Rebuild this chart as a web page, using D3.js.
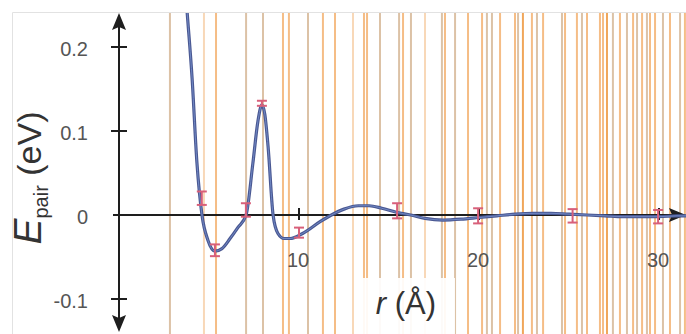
<!DOCTYPE html>
<html>
<head>
<meta charset="utf-8">
<script src="https://cdn.jsdelivr.net/npm/d3@7"></script>
<style>
  body { margin: 0; background: #fff; }
  svg { display: block; font-family: "Liberation Sans", Arial, sans-serif; }
</style>
</head>
<body>
<svg id="chart" width="686" height="334"></svg>
<script>
// pair energy curve (r in Å, E in eV)
const curveR = [3.55, 3.78, 4.06, 4.33, 4.61, 4.94, 5.33, 5.72, 6.17, 6.6, 7.06, 7.44, 7.72, 7.94, 8.1, 8.28, 8.56, 8.83, 9.17, 9.5, 10.2, 11.17, 11.8, 12.5, 13.3, 13.9, 14.6, 15.45, 16.2, 17, 18, 19, 20, 21, 22, 23, 24, 25, 26, 27, 28, 29, 30, 31, 31.6];
const curveE = [0.31, 0.243, 0.163, 0.062, 0.0, -0.03, -0.043, -0.04, -0.028, -0.015, 0.0, 0.062, 0.112, 0.131, 0.12, 0.082, 0.0, -0.022, -0.028, -0.028, -0.022, -0.008, 0.0, 0.007, 0.011, 0.011, 0.008, 0.003, 0.0, -0.004, -0.006, -0.005, -0.003, -0.001, 0.001, 0.002, 0.002, 0.001, 0.0, -0.001, -0.002, -0.002, -0.002, -0.001, -0.001];

// computed points with error bars
const barR = [4.6, 5.33, 7.05, 7.94, 10.0, 15.45, 19.95, 25.2, 29.95];
const barE = [0.02, -0.042, 0.006, 0.133, -0.021, 0.005, -0.001, -0.001, -0.002];
const barErr = [0.008, 0.007, 0.008, 0.003, 0.006, 0.009, 0.009, 0.008, 0.008];

// neighbour shell distances and multiplicities
const shellR = [2.83, 4.72, 5.39, 7.06, 8.0, 9.11, 9.44, 10.5, 11.33, 12.0, 13.0, 13.61, 13.78, 14.5, 15.56, 15.78, 16.22, 17.0, 17.94, 18.11, 18.67, 19.39, 20.17, 20.44, 20.72, 21.17, 22.0, 22.17, 22.44, 22.94, 23.22, 23.56, 24.61, 24.78, 25.44, 25.72, 26.0, 26.72, 26.89, 27.11, 27.44, 27.83, 28.22, 28.56, 28.78, 29.06, 29.33, 29.5, 29.78, 30.22, 30.61, 31.17, 31.44];
const shellN = [6, 12, 24, 6, 6, 24, 24, 6, 24, 24, 12, 24, 24, 6, 6, 24, 6, 12, 6, 24, 6, 24, 24, 6, 6, 24, 24, 6, 48, 24, 6, 24, 6, 24, 24, 6, 24, 24, 24, 48, 6, 24, 6, 24, 6, 24, 6, 24, 24, 6, 24, 6, 24];

const xTicks = [10, 20, 30];
const yTicks = [-0.1, 0.1, 0.2];
const yTickLabels = [-0.1, 0, 0.1, 0.2];

const svg = d3.select('#chart');
const width = +svg.attr('width');
const height = +svg.attr('height');

const x = d3.scaleLinear().domain([0, 31.5]).range([119, 686]);
const y = d3.scaleLinear().domain([-0.1, 0.2]).range([299, 47]);

const shellColor = d3.scaleThreshold()
  .domain([10, 20, 40])
  .range(['#dcc2a6', '#f8d8b8', '#f5bd86', '#f0a65a']);

// light frame
svg.append('path')
  .attr('d', `M12.5,${height} V12.5 H${width}`)
  .attr('fill', 'none')
  .attr('stroke', '#e2e2e2')
  .attr('stroke-width', 1);

svg.append('defs').append('clipPath').attr('id', 'plot')
  .append('rect')
  .attr('x', 119).attr('y', 13)
  .attr('width', width - 119).attr('height', height - 13);

// shell lines
svg.append('g')
  .selectAll('line')
  .data(shellR.map((r, i) => ({ r, n: shellN[i] })))
  .join('line')
  .attr('x1', d => x(d.r)).attr('x2', d => x(d.r))
  .attr('y1', 13).attr('y2', height)
  .attr('stroke', d => shellColor(d.n))
  .attr('stroke-width', 2);

// white box behind the x label
svg.append('rect')
  .attr('x', 361).attr('y', 278)
  .attr('width', 94).attr('height', height - 278)
  .attr('fill', '#fff')
  .attr('opacity', 0.92);

const axisColor = '#1e1e1e';

// y axis
svg.append('line')
  .attr('x1', x(0)).attr('x2', x(0))
  .attr('y1', 24).attr('y2', 322)
  .attr('stroke', axisColor).attr('stroke-width', 2);
svg.append('path')
  .attr('d', `M${x(0)},13 L${x(0) - 7},30 L${x(0)},27 L${x(0) + 7},30 Z`)
  .attr('fill', axisColor);
svg.append('path')
  .attr('d', `M${x(0)},332 L${x(0) - 7},315 L${x(0)},318 L${x(0) + 7},315 Z`)
  .attr('fill', axisColor);

svg.append('g')
  .selectAll('line')
  .data(yTicks)
  .join('line')
  .attr('x1', x(0) - 8).attr('x2', x(0) + 8)
  .attr('y1', d => y(d)).attr('y2', d => y(d))
  .attr('stroke', axisColor).attr('stroke-width', 2);

svg.append('g')
  .selectAll('text')
  .data(yTickLabels)
  .join('text')
  .attr('x', 88)
  .attr('y', d => y(d) + 4)
  .attr('text-anchor', 'end')
  .attr('dominant-baseline', 'middle')
  .attr('font-size', 20)
  .attr('fill', '#555')
  .text(d => d);

// x axis
svg.append('line')
  .attr('x1', x(0) - 6).attr('x2', width - 10)
  .attr('y1', y(0)).attr('y2', y(0))
  .attr('stroke', axisColor).attr('stroke-width', 2);
svg.append('path')
  .attr('d', `M${width},${y(0)} L${width - 17},${y(0) - 7} L${width - 14},${y(0)} L${width - 17},${y(0) + 7} Z`)
  .attr('fill', axisColor);

svg.append('g')
  .selectAll('line')
  .data(xTicks)
  .join('line')
  .attr('x1', d => x(d)).attr('x2', d => x(d))
  .attr('y1', y(0) - 7).attr('y2', y(0) + 5)
  .attr('stroke', axisColor).attr('stroke-width', 2);

svg.append('g')
  .selectAll('text')
  .data(xTicks)
  .join('text')
  .attr('x', d => x(d) - 1)
  .attr('y', 267)
  .attr('text-anchor', 'middle')
  .attr('font-size', 20)
  .attr('fill', '#555')
  .text(d => d);

// energy curve
const line = d3.line()
  .x(d => x(d[0]))
  .y(d => y(d[1]))
  .curve(d3.curveMonotoneX);
const pts = curveR.map((r, i) => [r, curveE[i]]);
const curveG = svg.append('g').attr('clip-path', 'url(#plot)');
curveG.append('path')
  .datum(pts)
  .attr('d', line)
  .attr('fill', 'none')
  .attr('stroke', '#4a5892')
  .attr('stroke-width', 3.2);
curveG.append('path')
  .datum(pts)
  .attr('d', line)
  .attr('fill', 'none')
  .attr('stroke', '#7088c4')
  .attr('stroke-width', 1);

// error bars
const bars = svg.append('g')
  .selectAll('g')
  .data(barR.map((r, i) => ({ r, e: barE[i], s: barErr[i] })))
  .join('g')
  .attr('stroke', '#d8607a')
  .attr('stroke-width', 2);
bars.append('line')
  .attr('x1', d => x(d.r)).attr('x2', d => x(d.r))
  .attr('y1', d => y(d.e - d.s)).attr('y2', d => y(d.e + d.s));
bars.append('line')
  .attr('x1', d => x(d.r) - 5).attr('x2', d => x(d.r) + 5)
  .attr('y1', d => y(d.e + d.s)).attr('y2', d => y(d.e + d.s));
bars.append('line')
  .attr('x1', d => x(d.r) - 5).attr('x2', d => x(d.r) + 5)
  .attr('y1', d => y(d.e - d.s)).attr('y2', d => y(d.e - d.s));

// axis titles
const xt = svg.append('text')
  .attr('x', 406).attr('y', 314)
  .attr('text-anchor', 'middle')
  .attr('font-size', 31)
  .attr('fill', '#333');
xt.append('tspan').attr('font-style', 'italic').text('r');
xt.append('tspan').text(' (Å)');

const yt = svg.append('text')
  .attr('transform', 'translate(41,178) rotate(-90)')
  .attr('text-anchor', 'middle')
  .attr('fill', '#333');
yt.append('tspan').attr('font-style', 'italic').attr('font-size', 39).text('E');
yt.append('tspan').attr('font-size', 20).attr('dy', 7).text('pair');
yt.append('tspan').attr('font-size', 34).attr('dy', -7).text(' (eV)');
</script>
</body>
</html>
